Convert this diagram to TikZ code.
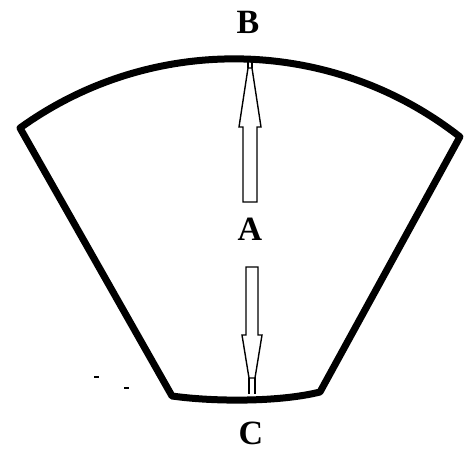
\documentclass[tikz,border=0pt]{standalone}
\usepackage{fontspec}
\setmainfont{Liberation Serif}
\usetikzlibrary{positioning, calc}

\tikzset{
  bordo/.style={line width=7pt, line join=round, line cap=round},
  freccia/.style={line width=1.4pt, line join=miter},
  etichetta/.style={font=\fontsize{34}{34}\selectfont\bfseries, inner sep=0pt}
}

\begin{document}
\begin{tikzpicture}[x=1pt, y=-1pt]
        \useasboundingbox (0,0) rectangle (466,452);
        %etichette
        \node[etichetta] (B) at (248,22) {B};
        \node[etichetta] (A) at (250,229) {A};
        \node[etichetta] (C) at (251,433) {C};
        %disegno contorno
        \draw[bordo] (20,128) arc[start angle=234.2, end angle=308.1, radius=366]
                     -- (320,392) .. controls (280,402) and (215,402) .. (172,396) -- cycle;
        %freccia verso B
        \draw[freccia, fill=white] (243,202) -- (257,202) -- (257,127) -- (261,127) -- (252,68)
                     -- (248,68) -- (239,127) -- (243,127) -- cycle;
        \draw[freccia] (248,68) -- (248,62) (252,68) -- (252,62);
        %freccia verso C
        \draw[freccia, fill=white] (246,267) -- (258,267) -- (258,335) -- (262,335) -- (255,378)
                     -- (249,378) -- (242,335) -- (246,335) -- cycle;
        \draw[freccia] (249,378) -- (249,394) (255,378) -- (255,394);
        %trattini
        \draw[line width=1.5pt] (94,377) -- (99,377);
        \draw[line width=1.5pt] (124,388) -- (129,388);
    \end{tikzpicture}
\end{document}
